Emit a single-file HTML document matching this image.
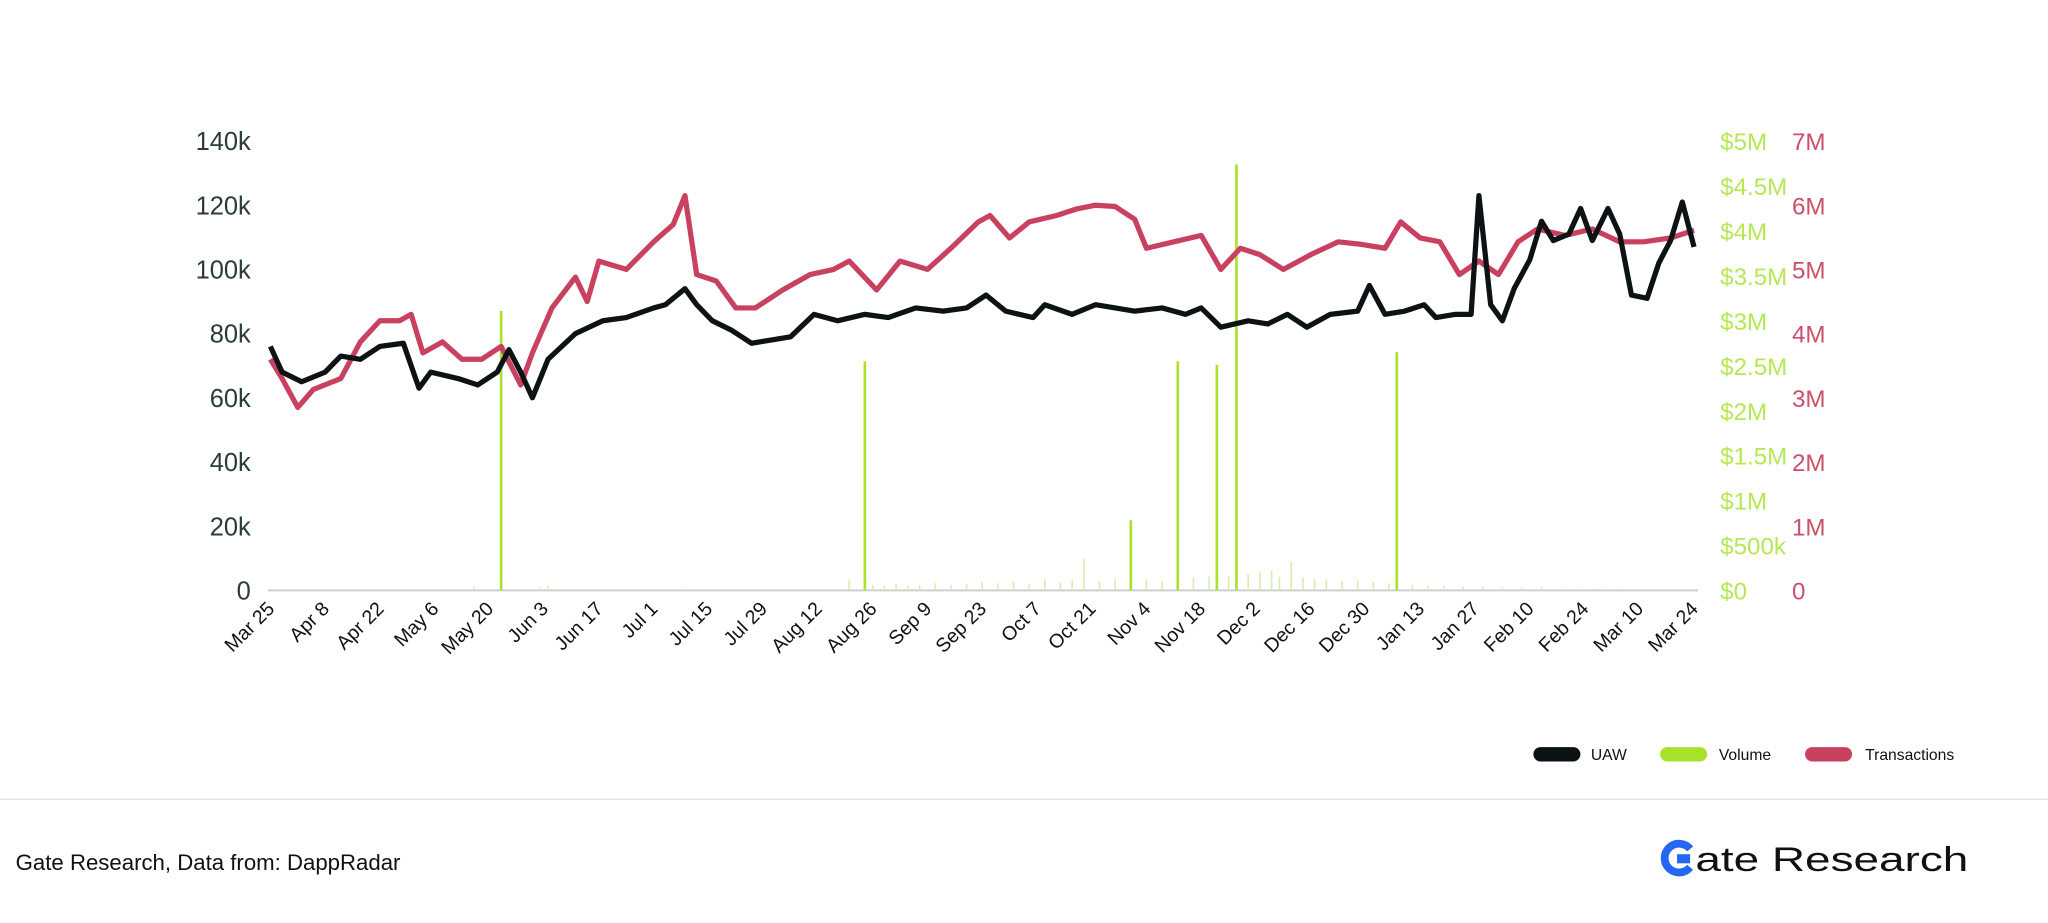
<!DOCTYPE html>
<html><head><meta charset="utf-8"><style>
html,body{margin:0;padding:0;background:#fff;}
svg{display:block;font-family:"Liberation Sans",sans-serif;}
</style></head><body>
<svg id="chart" width="2048" height="923" viewBox="0 0 1568 706.7" preserveAspectRatio="none" xmlns="http://www.w3.org/2000/svg">
<g id="axes"></g>
<g id="vol"></g>
<g id="lines"></g>
<g id="xlabels"></g>
<g>
 <rect x="1174" y="572" width="36" height="11" rx="5.5" fill="#0d1214"/>
 <text x="1218" y="582" font-size="12" fill="#111">UAW</text>
 <rect x="1271" y="572" width="36" height="11" rx="5.5" fill="#a8e22a"/>
 <text x="1316" y="582" font-size="12" fill="#111">Volume</text>
 <rect x="1382" y="572" width="36" height="11" rx="5.5" fill="#c8415f"/>
 <text x="1428" y="582" font-size="12" fill="#111">Transactions</text>
</g>
<line x1="0" y1="612" x2="1568" y2="612" stroke="#e3e3e3" stroke-width="1"/>
<text x="12" y="666" font-size="17" fill="#111">Gate Research, Data from: DappRadar</text>
<g>
 <path d="M1294 650 A11 11 0 1 0 1294 664" fill="none" stroke="#2468f2" stroke-width="6"/>
 <rect x="1284" y="654" width="10" height="7" fill="#2468f2"/>
 <text x="1298" y="667" font-size="26" fill="#111" textLength="209" lengthAdjust="spacingAndGlyphs">ate Research</text>
</g>
</svg>
<script>
// ---- data ----
const tickLabels=["Mar 25","Apr 8","Apr 22","May 6","May 20","Jun 3","Jun 17","Jul 1","Jul 15","Jul 29","Aug 12","Aug 26","Sep 9","Sep 23","Oct 7","Oct 21","Nov 4","Nov 18","Dec 2","Dec 16","Dec 30","Jan 13","Jan 27","Feb 10","Feb 24","Mar 10","Mar 24"];
const leftTicks=["0","20k","40k","60k","80k","100k","120k","140k"];
const volTicks=["$0","$500k","$1M","$1.5M","$2M","$2.5M","$3M","$3.5M","$4M","$4.5M","$5M"];
const txTicks=["0","1M","2M","3M","4M","5M","6M","7M"];
const uawDays=[0,3,8,14,18,23,28,34,38,41,48,53,58,61,64,67,71,78,85,91,98,101,106,109,113,118,123,128,133,139,145,152,158,165,172,178,183,188,195,198,205,211,216,221,228,234,238,243,250,255,260,265,271,278,281,285,290,295,298,303,307,309,312,315,318,322,325,328,332,335,338,342,345,348,352,355,358,361,364];
const uawVals=[76,68,65,68,73,72,76,77,63,68,66,64,68,75,68,60,72,80,84,85,88,89,94,89,84,81,77,78,79,86,84,86,85,88,87,88,92,87,85,89,86,89,88,87,88,86,88,82,84,83,86,82,86,87,95,86,87,89,85,86,86,123,89,84,94,103,115,109,111,119,109,119,111,92,91,102,109,121,107];
const txDays=[0,3,7,11,18,23,28,33,36,39,44,49,54,59,64,67,72,78,81,84,91,98,103,106,109,114,119,124,131,138,144,148,155,161,168,174,181,184,189,194,201,206,211,216,221,224,231,238,243,248,253,259,266,273,279,285,289,294,299,304,309,314,319,324,331,338,345,351,358,364];
const txVals=[3.6,3.3,2.85,3.13,3.3,3.87,4.2,4.2,4.3,3.7,3.87,3.6,3.6,3.8,3.2,3.7,4.4,4.88,4.5,5.13,5.0,5.43,5.7,6.15,4.92,4.82,4.4,4.4,4.68,4.92,5.0,5.13,4.68,5.13,5.0,5.33,5.74,5.84,5.49,5.74,5.84,5.94,6.0,5.98,5.78,5.33,5.43,5.53,5.0,5.33,5.23,5.0,5.23,5.43,5.39,5.33,5.74,5.49,5.43,4.92,5.13,4.92,5.43,5.63,5.53,5.63,5.43,5.43,5.49,5.61];
const volDays=[52,59,69,71,105,148,152,154,157,160,163,166,170,174,178,182,186,190,194,198,202,205,208,212,216,220,224,228,232,236,240,242,245,247,250,253,256,258,261,264,267,270,274,278,282,286,288,292,296,300,305,310,315,320,325,330,335,340,345];
const volVals=[0.04,3.11,0.03,0.05,0.02,0.12,2.55,0.06,0.05,0.07,0.05,0.06,0.08,0.06,0.07,0.09,0.08,0.1,0.07,0.12,0.09,0.11,0.35,0.1,0.13,0.78,0.12,0.1,2.55,0.14,0.15,2.51,0.16,4.74,0.18,0.2,0.22,0.15,0.32,0.14,0.13,0.12,0.1,0.11,0.09,0.08,2.65,0.06,0.05,0.05,0.04,0.04,0.03,0.03,0.03,0.02,0.02,0.02,0.02];
// ---- scales ----
const X0=207,X1=1297,YB=452,YT=108;
const xs=d=>X0+d*(X1-X0)/364;
const yL=v=>YB-v/140*(YB-YT);
const yV=v=>YB-v/5*(YB-YT);
const yT=v=>YB-v/7*(YB-YT);
const NS="http://www.w3.org/2000/svg";
function mk(tag,attrs,parent){const e=document.createElementNS(NS,tag);for(const k in attrs)e.setAttribute(k,attrs[k]);parent.appendChild(e);return e;}
const axes=document.getElementById('axes');
const base=mk('line',{x1:205,y1:YB,x2:1300,y2:YB,stroke:'#cfcfcf','stroke-width':1.5},axes);


leftTicks.forEach((t,i)=>{const e=mk('text',{x:192,y:yL(i*20)+7,'font-size':19.5,'text-anchor':'end',fill:'#2c3b3b'},axes);e.textContent=t;

});
volTicks.forEach((t,i)=>{const e=mk('text',{x:1317,y:yV(i*0.5)+7,'font-size':18.5,fill:'#b5e853'},axes);e.textContent=t;

});
txTicks.forEach((t,i)=>{const e=mk('text',{x:1372,y:yT(i)+7,'font-size':18.5,fill:'#c9506a'},axes);e.textContent=t;

});
const xl=document.getElementById('xlabels');
tickLabels.forEach((t,i)=>{const x=xs(i*14)+4;const e=mk('text',{x:x,y:467,'font-size':15,'text-anchor':'end',fill:'#111',transform:`rotate(-45 ${x} 467)`},xl);e.textContent=t;

});
const vg=document.getElementById('vol');
volDays.forEach((d,i)=>{const big=volVals[i]>0.5;const e=mk('line',{x1:xs(d),x2:xs(d),y1:YB,y2:yV(volVals[i]),stroke:big?'#a8e22a':'#d4efa8','stroke-width':big?2:1.2},vg);

});
const lg=document.getElementById('lines');
const tx=mk('polyline',{points:txDays.map((d,i)=>xs(d)+','+yT(txVals[i])).join(' '),fill:'none',stroke:'#c8415f','stroke-width':4,'stroke-linejoin':'round'},lg);


const ua=mk('polyline',{points:uawDays.map((d,i)=>xs(d)+','+yL(uawVals[i])).join(' '),fill:'none',stroke:'#0d1214','stroke-width':4,'stroke-linejoin':'round'},lg);


</script>
</body></html>
